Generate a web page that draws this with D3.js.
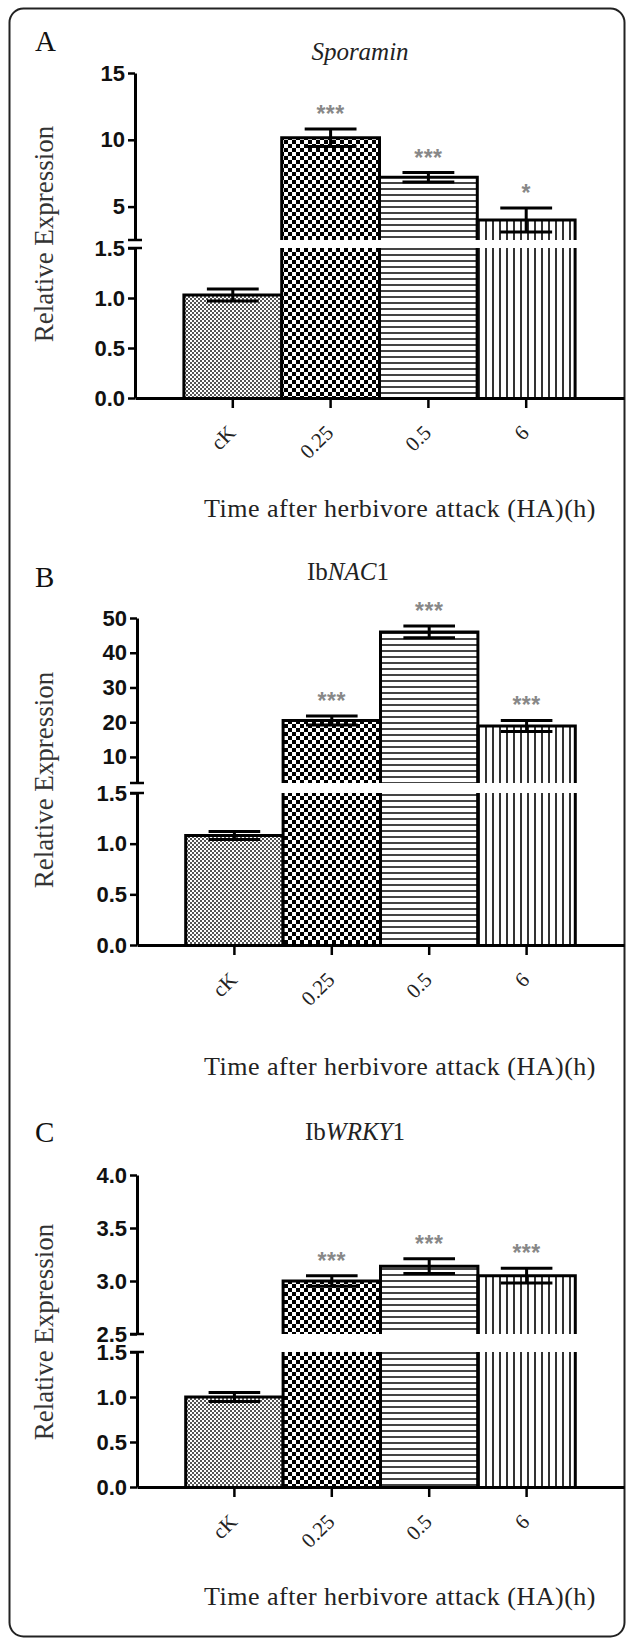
<!DOCTYPE html>
<html>
<head>
<meta charset="utf-8">
<script src="https://cdn.jsdelivr.net/npm/d3@7"></script>
<style>
  body { margin: 0; background: #fff; }
</style>
</head>
<body>
<div id="chart"></div>
<script>
// categories and values
const categories = ['cK', '0.25', '0.5', '6'];

const sporaminMean = [1.03, 10.15, 7.2, 4.0];
const sporaminErr  = [0.06, 0.65, 0.35, 0.9];
const sporaminSig  = ['', '***', '***', '*'];

const nacMean = [1.08, 20.5, 46.0, 18.9];
const nacErr  = [0.04, 1.3, 1.7, 1.6];
const nacSig  = ['', '***', '***', '***'];

const wrkyMean = [1.0, 3.0, 3.14, 3.05];
const wrkyErr  = [0.05, 0.05, 0.07, 0.07];
const wrkySig  = ['', '***', '***', '***'];

// broken y axis: lower segment + upper segment
const lowDomain = [0, 1.5];
const lowTicks = [0, 0.5, 1.0, 1.5];
const sporaminDomain = [2.5, 15];
const sporaminTicks = [5, 10, 15];
const nacDomain = [2.5, 50];
const nacTicks = [10, 20, 30, 40, 50];
const wrkyDomain = [2.5, 4.0];
const wrkyTicks = [2.5, 3.0, 3.5, 4.0];

const xTitle = 'Time after herbivore attack (HA)(h)';
const yTitle = 'Relative Expression';

const W = 627, H = 1640;
const serif = '"Liberation Serif", "Times New Roman", serif';
const sans = '"Liberation Sans", Arial, sans-serif';

const panels = [
  { letter: 'A', title: [['Sporamin', true]], mean: sporaminMean, err: sporaminErr, sig: sporaminSig,
    topDomain: sporaminDomain, topTicks: sporaminTicks, topFmt: d3.format('d'),
    letterY: 51, titleX: 360, titleY: 60, axisX: 135,
    topRange: [240, 73], lowRange: [398, 248], timeY: 517, yLabelY: 234 },
  { letter: 'B', title: [['Ib', false], ['NAC', true], ['1', false]], mean: nacMean, err: nacErr, sig: nacSig,
    topDomain: nacDomain, topTicks: nacTicks, topFmt: d3.format('d'),
    letterY: 587, titleX: 348, titleY: 580, axisX: 137,
    topRange: [783, 618], lowRange: [945, 793], timeY: 1075, yLabelY: 780 },
  { letter: 'C', title: [['Ib', false], ['WRKY', true], ['1', false]], mean: wrkyMean, err: wrkyErr, sig: wrkySig,
    topDomain: wrkyDomain, topTicks: wrkyTicks, topFmt: d3.format('.1f'),
    letterY: 1142, titleX: 355, titleY: 1140, axisX: 137,
    topRange: [1334, 1175], lowRange: [1487, 1352], timeY: 1605, yLabelY: 1332 }
];

const svg = d3.select('#chart').append('svg')
  .attr('width', W)
  .attr('height', H);

// fill patterns, one per category
const defs = svg.append('defs');
const pFine = defs.append('pattern').attr('id', 'pat0').attr('patternUnits', 'userSpaceOnUse')
  .attr('width', 4).attr('height', 4);
pFine.append('rect').attr('width', 4).attr('height', 4).attr('fill', '#fff');
pFine.append('rect').attr('x', 0).attr('y', 0).attr('width', 2).attr('height', 2).attr('fill', '#555');
pFine.append('rect').attr('x', 2).attr('y', 2).attr('width', 2).attr('height', 2).attr('fill', '#555');

const pChk = defs.append('pattern').attr('id', 'pat1').attr('patternUnits', 'userSpaceOnUse')
  .attr('width', 8).attr('height', 8);
pChk.append('rect').attr('width', 8).attr('height', 8).attr('fill', '#fff');
pChk.append('rect').attr('x', 0).attr('y', 0).attr('width', 4).attr('height', 4).attr('fill', '#000');
pChk.append('rect').attr('x', 4).attr('y', 4).attr('width', 4).attr('height', 4).attr('fill', '#000');

const pHor = defs.append('pattern').attr('id', 'pat2').attr('patternUnits', 'userSpaceOnUse')
  .attr('width', 6).attr('height', 6);
pHor.append('rect').attr('width', 6).attr('height', 6).attr('fill', '#fff');
pHor.append('rect').attr('x', 0).attr('y', 2).attr('width', 6).attr('height', 2).attr('fill', '#444');

const pVer = defs.append('pattern').attr('id', 'pat3').attr('patternUnits', 'userSpaceOnUse')
  .attr('width', 7).attr('height', 7);
pVer.append('rect').attr('width', 7).attr('height', 7).attr('fill', '#fff');
pVer.append('rect').attr('x', 2).attr('y', 0).attr('width', 2).attr('height', 7).attr('fill', '#333');

// outer frame
svg.append('rect')
  .attr('x', 9.5).attr('y', 8.5)
  .attr('width', 615).attr('height', 1628)
  .attr('rx', 14)
  .attr('fill', 'none')
  .attr('stroke', '#222')
  .attr('stroke-width', 2);

panels.forEach(p => {
  const g = svg.append('g');

  const x = d3.scaleBand()
    .domain(categories)
    .range([p.axisX, 624])
    .paddingInner(0)
    .paddingOuter(0.5);
  const yTop = d3.scaleLinear().domain(p.topDomain).range(p.topRange);
  const yLow = d3.scaleLinear().domain(lowDomain).range(p.lowRange);
  const yv = v => v > lowDomain[1] ? yTop(Math.max(v, p.topDomain[0])) : yLow(v);

  const data = categories.map((c, i) => ({ c, i, m: p.mean[i], e: p.err[i], s: p.sig[i] }));

  // bars, split at the axis break
  data.forEach(d => {
    const x0 = x(d.c), x1 = x0 + x.bandwidth();
    const bar = g.append('g');
    if (d.m <= lowDomain[1]) {
      bar.append('rect').attr('x', x0).attr('y', yLow(d.m))
        .attr('width', x1 - x0).attr('height', yLow(0) - yLow(d.m))
        .attr('fill', `url(#pat${d.i})`);
      bar.append('path')
        .attr('d', `M${x0},${yLow(0)}V${yLow(d.m)}H${x1}V${yLow(0)}`)
        .attr('fill', 'none').attr('stroke', '#000').attr('stroke-width', 3);
    } else {
      const lo = p.topDomain[0];
      bar.append('rect').attr('x', x0).attr('y', yLow(lowDomain[1]))
        .attr('width', x1 - x0).attr('height', yLow(0) - yLow(lowDomain[1]))
        .attr('fill', `url(#pat${d.i})`);
      bar.append('rect').attr('x', x0).attr('y', yTop(d.m))
        .attr('width', x1 - x0).attr('height', yTop(lo) - yTop(d.m))
        .attr('fill', `url(#pat${d.i})`);
      bar.append('path')
        .attr('d', `M${x0},${yLow(lowDomain[1])}V${yLow(0)}M${x1},${yLow(lowDomain[1])}V${yLow(0)}` +
                   `M${x0},${yTop(lo)}V${yTop(d.m)}H${x1}V${yTop(lo)}`)
        .attr('fill', 'none').attr('stroke', '#000').attr('stroke-width', 3);
    }
  });

  // error bars and significance stars
  const capW = x.bandwidth() * 0.53;
  data.forEach(d => {
    const cx = x(d.c) + x.bandwidth() / 2;
    const yHi = yv(d.m + d.e), yLo = yv(d.m - d.e);
    g.append('path')
      .attr('d', `M${cx},${yLo}V${yHi}M${cx - capW / 2},${yHi}H${cx + capW / 2}M${cx - capW / 2},${yLo}H${cx + capW / 2}`)
      .attr('fill', 'none').attr('stroke', '#000').attr('stroke-width', 3);
    if (d.s) {
      g.append('text')
        .attr('x', cx).attr('y', yHi - 7)
        .attr('text-anchor', 'middle')
        .attr('font-family', sans)
        .attr('font-weight', 'bold')
        .attr('font-size', 23)
        .attr('letter-spacing', 0.5)
        .attr('fill', '#888')
        .text(d.s);
    }
  });

  // y axis, upper and lower segment
  const topAxis = g.append('g')
    .attr('transform', `translate(${p.axisX},0)`)
    .call(d3.axisLeft(yTop).tickValues(p.topTicks).tickFormat(p.topFmt).tickSize(7).tickSizeOuter(0).tickPadding(3));
  const lowAxis = g.append('g')
    .attr('transform', `translate(${p.axisX},0)`)
    .call(d3.axisLeft(yLow).tickValues(lowTicks).tickFormat(d3.format('.1f')).tickSize(7).tickSizeOuter(0).tickPadding(3));

  [topAxis, lowAxis].forEach(a => {
    a.select('.domain').attr('stroke', '#000').attr('stroke-width', 3);
    a.selectAll('.tick line').attr('stroke', '#000').attr('stroke-width', 2.5);
    a.selectAll('.tick text')
      .style('font-family', sans)
      .style('font-size', '22px')
      .style('font-weight', 'bold')
      .attr('fill', '#111');
  });

  // break marks
  g.append('path')
    .attr('d', `M${p.axisX - 7},${p.topRange[0]}H${p.axisX + 7}M${p.axisX - 7},${p.lowRange[1]}H${p.axisX + 7}`)
    .attr('stroke', '#000').attr('stroke-width', 2.5);

  // x axis
  const xAxis = g.append('g')
    .attr('transform', `translate(0,${p.lowRange[0]})`)
    .call(d3.axisBottom(x).tickSize(10).tickSizeOuter(0));
  xAxis.select('.domain').attr('stroke', '#000').attr('stroke-width', 3);
  xAxis.selectAll('.tick line').attr('stroke', '#000').attr('stroke-width', 2.5);
  xAxis.selectAll('.tick text')
    .attr('x', 0).attr('y', 0).attr('dy', null)
    .attr('transform', 'translate(4,36) rotate(-45)')
    .attr('text-anchor', 'end')
    .style('font-family', serif)
    .style('font-size', '21px')
    .attr('fill', '#222');

  // panel letter
  g.append('text')
    .attr('x', 35).attr('y', p.letterY)
    .attr('font-family', serif)
    .attr('font-size', 29)
    .attr('fill', '#111')
    .text(p.letter);

  // gene title
  const t = g.append('text')
    .attr('x', p.titleX).attr('y', p.titleY)
    .attr('text-anchor', 'middle')
    .attr('font-family', serif)
    .attr('font-size', 25)
    .attr('fill', '#222');
  p.title.forEach(([s, it]) => t.append('tspan').attr('font-style', it ? 'italic' : 'normal').text(s));

  // axis titles
  g.append('text')
    .attr('transform', `translate(53,${p.yLabelY}) rotate(-90)`)
    .attr('text-anchor', 'middle')
    .attr('font-family', serif)
    .attr('font-size', 27)
    .attr('fill', '#333')
    .text(yTitle);

  g.append('text')
    .attr('x', 400).attr('y', p.timeY)
    .attr('text-anchor', 'middle')
    .attr('font-family', serif)
    .attr('font-size', 26)
    .attr('letter-spacing', 0.5)
    .attr('fill', '#222')
    .text(xTitle);
});
</script>
</body>
</html>
